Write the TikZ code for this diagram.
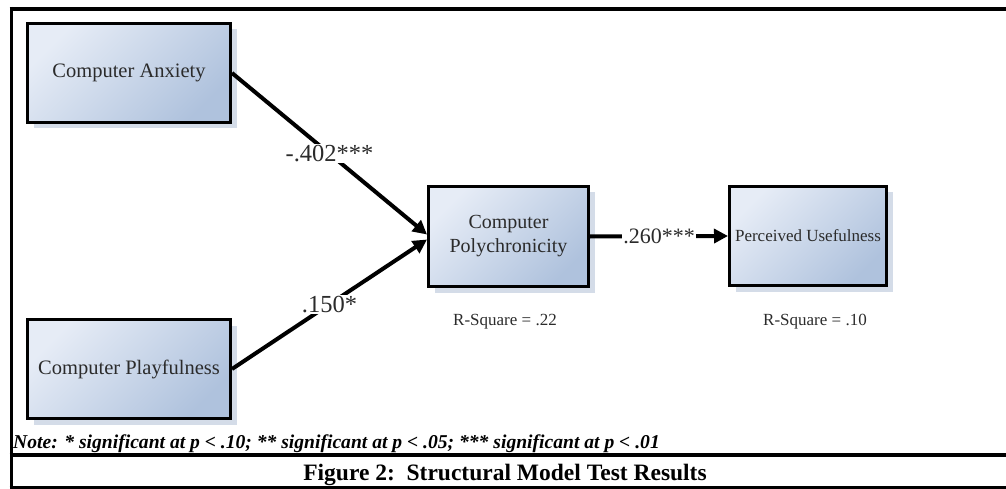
\documentclass[tikz,border=0pt]{standalone}
\usepackage{fontspec}
\setmainfont{Liberation Serif}
\usetikzlibrary{arrows.meta,shadows}
\definecolor{boxlight}{HTML}{E6ECF6}
\definecolor{boxdark}{HTML}{AFC2DD}
\definecolor{shadowc}{HTML}{C9D3E2}
\definecolor{txt}{HTML}{2B2B2B}
\tikzset{
  var/.style={draw=black, line width=3pt, top color=boxlight, bottom color=boxdark, shading angle=45,
    drop shadow={shadow xshift=6pt, shadow yshift=-6pt, fill=shadowc, opacity=0.8},
    text=txt, font=\fontsize{20.5}{23}\selectfont, align=center, inner sep=0pt},
  conn/.style={line width=4pt, -{Triangle[length=14pt,width=14pt]}},
  coef/.style={fill=white, inner sep=1pt, text=txt, font=\fontsize{24.5}{26}\selectfont},
  rsq/.style={text=txt, font=\fontsize{17}{20}\selectfont},
  rule/.style={line width=3.5pt}
}
\begin{document}
\begin{tikzpicture}[x=1pt,y=-1pt]
\useasboundingbox (0,0) rectangle (1006,489);
% frame
\draw[rule,line width=4pt] (9.5,9) -- (1006,9);
\draw[rule] (11.5,7) -- (11.5,489);
\draw[rule] (9.5,455) -- (1006,455);
\draw[rule] (9.5,487.5) -- (1006,487.5);
% boxes
\node[var, minimum width=203pt, minimum height=99pt] (ca) at (129,73) {Computer Anxiety};
\node[var, minimum width=203pt, minimum height=99pt] (cpl) at (129,369) {Computer Playfulness};
\node[var, minimum width=160pt, minimum height=100pt, font=\fontsize{20}{23}\selectfont] (cp) at (508.5,236.5) {Computer\\[1pt]Polychronicity};
\node[var, minimum width=157pt, minimum height=99pt, font=\fontsize{17}{20}\selectfont] (pu) at (808,236) {Perceived Usefulness};
% connectors
\draw[conn] (ca.east) -- node[coef]{-.402***} ([yshift=2pt]cp.west);
\draw[conn] (cpl.east) -- node[coef]{.150*} ([yshift=-3pt]cp.west);
\draw[conn] (cp.east) -- node[coef,font=\fontsize{22}{24}\selectfont]{.260***} (pu.west);
% r-square
\node[rsq] (r1) at (505,322) {R-Square = .22};
\node[rsq] (r2) at (815,322) {R-Square = .10};
% note and caption
\node[anchor=base west, inner sep=0pt, font=\fontsize{19.6}{22}\selectfont\bfseries\itshape] (note) at (13,448) {Note: * significant at p < .10; ** significant at p < .05; *** significant at p < .01};
\node[anchor=base, inner sep=0pt, font=\fontsize{23.5}{26}\selectfont\bfseries] (cap) at (505,480) {Figure 2:\ \ Structural Model Test Results};
\end{tikzpicture}
\end{document}
